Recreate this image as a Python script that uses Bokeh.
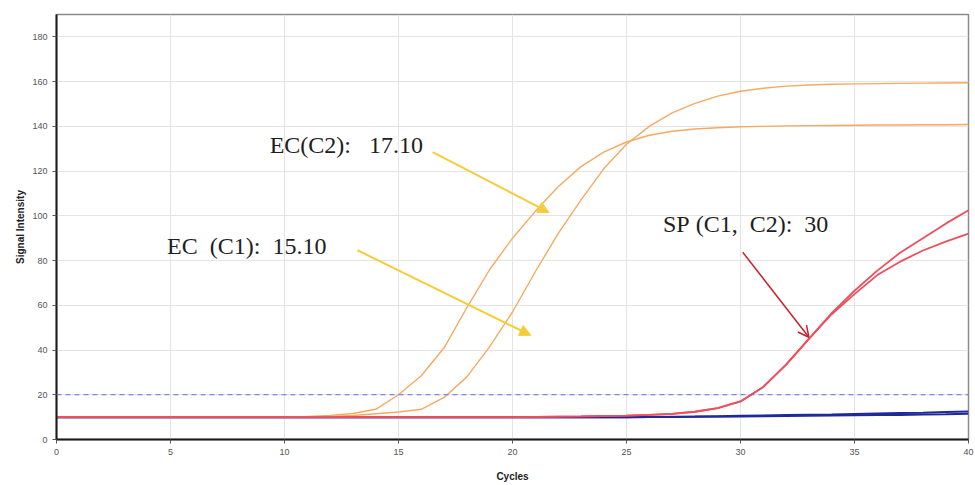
from bokeh.plotting import figure
from bokeh.models import Arrow, NormalHead, OpenHead, SingleIntervalTicker, Range1d, Span
from bokeh.core.properties import value
from bokeh.embed import file_html
from bokeh.resources import INLINE

cycles = list(range(0, 41))

ec_a = [10, 10, 10, 10, 10, 10, 10, 10, 10, 10, 10.1, 10.3, 10.8, 11.6, 13.5,
        20, 28.5, 41, 59, 76, 90, 102, 113, 122, 128.5, 133, 136, 137.8, 138.8,
        139.4, 139.8, 140, 140.2, 140.3, 140.4, 140.5, 140.6, 140.6, 140.7, 140.7, 140.8]
ec_b = [10, 10, 10, 10, 10, 10, 10, 10, 10, 10, 10, 10.1, 10.3, 10.7, 11.5,
        12.3, 13.5, 18.8, 28, 41.5, 57, 75, 92, 107, 121, 132, 140, 146, 150.3,
        153.5, 155.7, 157, 158, 158.5, 158.8, 159, 159.1, 159.2, 159.3, 159.4, 159.5]
sp_a = [10, 10, 10, 10, 10, 10, 10, 10, 10, 10, 10, 10, 10, 10, 10,
        10, 10, 10, 10, 10, 10, 10.1, 10.2, 10.3, 10.5, 10.7, 11.0, 11.5, 12.4,
        14.0, 17.0, 23.5, 33.5, 45, 56.5, 66.5, 75.5, 83.5, 90, 96.5, 102.5]
sp_b = [10, 10, 10, 10, 10, 10, 10, 10, 10, 10, 10, 10, 10, 10, 10,
        10, 10, 10, 10, 10, 10, 10.1, 10.2, 10.3, 10.5, 10.7, 11.0, 11.5, 12.4,
        14.0, 17.0, 23.5, 33.5, 45, 56, 65, 73.5, 79.5, 84.5, 88.5, 92]
neg_a = [10, 10, 10, 10, 10, 10, 10, 10, 10, 10, 10, 10, 10, 10, 10,
         10, 10, 10, 10, 10, 10, 10, 10, 10, 10, 10, 10.1, 10.2, 10.3,
         10.45, 10.6, 10.75, 10.9, 11.05, 11.2, 11.4, 11.6, 11.8, 12.0, 12.25, 12.5]
neg_b = [10, 10, 10, 10, 10, 10, 10, 10, 10, 10, 10, 10, 10, 10, 10,
         10, 10, 10, 10, 10, 10, 10, 10, 10, 10, 10, 10.05, 10.1, 10.15,
         10.2, 10.3, 10.4, 10.5, 10.6, 10.7, 10.8, 10.9, 11.0, 11.15, 11.3, 11.5]
threshold = 20

NB = "\u00a0"
labels = ["EC(C2):" + NB * 3 + "17.10",
          "EC" + NB * 2 + "(C1):" + NB * 2 + "15.10",
          "SP" + NB + "(C1," + NB * 2 + "C2):" + NB * 2 + "30"]
label_x = [9.35, 4.85, 26.6]
label_y = [131.5, 86.5, 96.5]

arrows = [  # (x_start, y_start, x_end, y_end)
    (16.5, 128.5, 21.6, 101.5),
    (13.2, 84.6, 20.8, 46.6),
    (30.1, 83.7, 33.0, 45.7),
]

p = figure(width=975, height=485, output_backend="svg", toolbar_location=None,
           x_range=Range1d(0, 40), y_range=Range1d(0, 190),
           min_border_left=56, min_border_right=7, min_border_top=14, min_border_bottom=46)
p.background_fill_color = "white"
p.border_fill_color = "white"
p.outline_line_color = "#8a8a8a"
p.outline_line_width = 1.5

p.xaxis.ticker = SingleIntervalTicker(interval=5)
p.yaxis.ticker = SingleIntervalTicker(interval=20)
p.xgrid.ticker = SingleIntervalTicker(interval=5)
p.ygrid.ticker = SingleIntervalTicker(interval=20)
for g in (p.xgrid, p.ygrid):
    g.grid_line_color = "#e4e4e4"
    g.grid_line_width = 1

for ax in (p.xaxis, p.yaxis):
    ax.axis_line_color = "#1a1a1a"
    ax.axis_line_width = 2
    ax.major_tick_line_color = "#555555"
    ax.major_tick_out = 4
    ax.major_tick_in = 0
    ax.minor_tick_line_color = None
    ax.major_label_text_font = "Liberation Sans"
    ax.major_label_text_font_size = "9px"
    ax.major_label_text_color = "#555555"
    ax.axis_label_text_font = "Liberation Sans"
    ax.axis_label_text_font_size = "10px"
    ax.axis_label_text_font_style = "bold"
    ax.axis_label_text_color = "#222222"
p.xaxis.axis_label = "Cycles"
p.yaxis.axis_label = "Signal Intensity"
p.xaxis.axis_label_standoff = 13
p.yaxis.axis_label_standoff = 3

p.add_layout(Span(location=threshold, dimension="width", line_color="#5c6fe6",
                  line_width=1, line_dash="5 4"))

blue = "#1f2a9a"
orange = "#f5aa62"
red = "#ef4f5c"
p.line(cycles, neg_a, line_color=blue, line_width=2)
p.line(cycles, neg_b, line_color=blue, line_width=2)
p.line(cycles, ec_a, line_color=orange, line_width=1.4)
p.line(cycles, ec_b, line_color=orange, line_width=1.4)
p.line(cycles, sp_a, line_color=red, line_width=1.8)
p.line(cycles, sp_b, line_color=red, line_width=1.8)

p.text(x=label_x, y=label_y, text=labels, text_font=value("Liberation Serif"),
       text_font_size="24px", text_color="#1e1e1e", text_baseline="middle", text_align="left")

yellow = "#f5cd3a"
for i, (xs, ys, xe, ye) in enumerate(arrows):
    if i < 2:
        head = NormalHead(size=11, fill_color=yellow, line_color=yellow)
        p.add_layout(Arrow(end=head, x_start=xs, y_start=ys, x_end=xe, y_end=ye,
                           line_color=yellow, line_width=2))
    else:
        head = OpenHead(size=11, line_color="#c8202a", line_width=1.5)
        p.add_layout(Arrow(end=head, x_start=xs, y_start=ys, x_end=xe, y_end=ye,
                           line_color="#c8202a", line_width=1.5))

open("out.html", "w").write(file_html(p, INLINE))
